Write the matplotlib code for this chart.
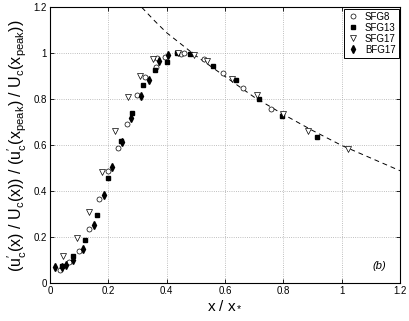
import numpy as np
import matplotlib
matplotlib.use("Agg")
import matplotlib.pyplot as plt

plt.rcParams['font.family'] = ['Liberation Sans', 'DejaVu Sans']
plt.rcParams['mathtext.fontset'] = 'custom'
plt.rcParams['mathtext.rm'] = 'Liberation Sans'
plt.rcParams['mathtext.it'] = 'Liberation Sans:italic'
plt.rcParams['mathtext.default'] = 'regular'

# SFG8 (open circles)
sfg8_x = [0.034, 0.066, 0.10, 0.135, 0.168, 0.20, 0.232, 0.265, 0.297, 0.327, 0.364,
          0.366, 0.395, 0.449, 0.461, 0.528, 0.595, 0.661, 0.757]
sfg8_y = [0.058, 0.094, 0.14, 0.235, 0.365, 0.49, 0.59, 0.691, 0.819, 0.899, 0.942,
          0.978, 0.985, 0.999, 1.0, 0.976, 0.916, 0.848, 0.759]

# SFG13 (filled squares)
sfg13_x = [0.042, 0.08, 0.12, 0.16, 0.20, 0.243, 0.28, 0.32, 0.36, 0.40, 0.437, 0.48,
           0.558, 0.638, 0.718, 0.797, 0.915]
sfg13_y = [0.075, 0.119, 0.188, 0.297, 0.457, 0.62, 0.743, 0.862, 0.927, 0.963, 1.0, 0.996,
           0.945, 0.884, 0.80, 0.727, 0.637]

# SFG17 (open down-triangles)
sfg17_x = [0.046, 0.092, 0.135, 0.177, 0.223, 0.269, 0.309, 0.355, 0.44, 0.495,
           0.537, 0.623, 0.711, 0.798, 0.886, 1.021]
sfg17_y = [0.12, 0.196, 0.311, 0.485, 0.664, 0.809, 0.901, 0.974, 1.003, 0.993,
           0.965, 0.887, 0.819, 0.736, 0.662, 0.583]

# BFG17 (filled diamonds)
bfg17_x = [0.017, 0.043, 0.055, 0.08, 0.114, 0.151, 0.186, 0.214, 0.248, 0.277,
           0.311, 0.341, 0.374, 0.404]
bfg17_y = [0.07, 0.07, 0.08, 0.10, 0.148, 0.253, 0.384, 0.504, 0.614, 0.717,
           0.816, 0.884, 0.968, 0.993]

# dashed decay curve
curve_x = [0.315, 0.36, 0.40, 0.45, 0.50, 0.60, 0.70, 0.80, 0.90, 1.00, 1.10, 1.20]
curve_y = [1.20, 1.14, 1.09, 1.04, 0.99, 0.90, 0.81, 0.735, 0.665, 0.60, 0.545, 0.49]

fig = plt.figure(figsize=(4.09, 3.21), dpi=100)
ax = fig.add_axes([0.122, 0.117, 0.856, 0.86])

ax.plot(curve_x, curve_y, color='black', linestyle=(0, (5, 4)), linewidth=0.7, zorder=2)

ms = 3.6
ax.plot(sfg8_x, sfg8_y, linestyle='none', marker='o', markersize=ms,
        markerfacecolor='white', markeredgecolor='black', markeredgewidth=0.5, label='SFG8', zorder=3)
ax.plot(sfg13_x, sfg13_y, linestyle='none', marker='s', markersize=ms - 0.5,
        color='black', label='SFG13', zorder=3)
ax.plot(sfg17_x, sfg17_y, linestyle='none', marker='v', markersize=ms + 0.6,
        markerfacecolor='white', markeredgecolor='black', markeredgewidth=0.5, label='SFG17', zorder=3)
ax.plot(bfg17_x, bfg17_y, linestyle='none', marker='d', markersize=ms + 0.6,
        color='black', label='BFG17', zorder=3)

ax.set_xlim(0, 1.2)
ax.set_ylim(0, 1.2)
ax.set_xticks([0, 0.2, 0.4, 0.6, 0.8, 1.0, 1.2])
ax.set_xticklabels(['0', '0.2', '0.4', '0.6', '0.8', '1', '1.2'])
ax.set_yticks([0, 0.2, 0.4, 0.6, 0.8, 1.0, 1.2])
ax.set_yticklabels(['0', '0.2', '0.4', '0.6', '0.8', '1', '1.2'])
ax.tick_params(direction='in', top=True, right=True, labelsize=7, length=3, width=0.6, pad=2)
ax.grid(True, linestyle=':', color='#aaaaaa', linewidth=0.6)
for s in ax.spines.values():
    s.set_linewidth(0.8)

ax.set_xlabel(r"$x\ /\ x_*$", fontsize=11, labelpad=1)
ax.set_ylabel(r"$(u_c'(x)\ /\ U_c(x))\ /\ (u_c'(x_{peak})\ /\ U_c(x_{peak}))$", fontsize=11.5, labelpad=3)

ax.text(1.13, 0.075, '(b)', fontsize=8, style='italic', ha='center', va='center')

leg = ax.legend(loc='upper right', fontsize=7, frameon=True, fancybox=False,
                edgecolor='black', framealpha=1, borderpad=0.3, labelspacing=0.1,
                handletextpad=0.6, handlelength=1.2, borderaxespad=0.15)
leg.get_frame().set_linewidth(0.7)

fig.savefig('out.png', dpi=100)
